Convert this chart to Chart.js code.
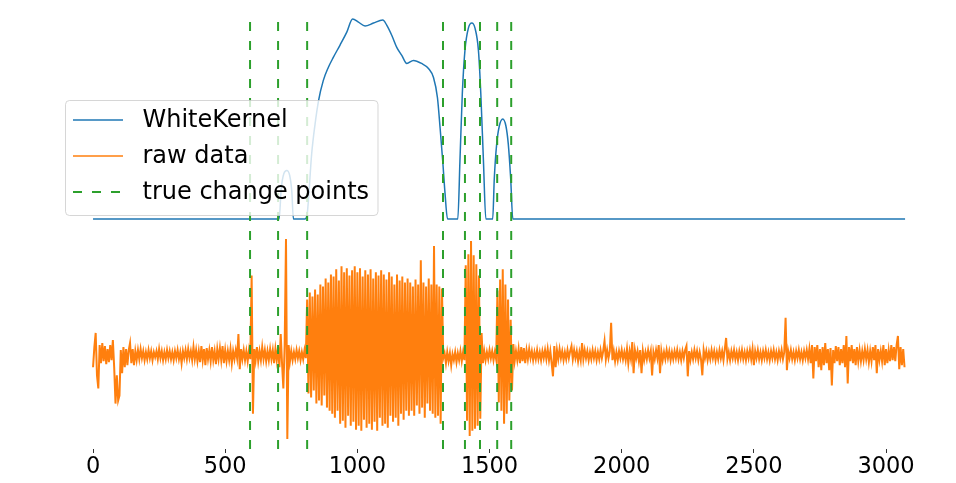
<!DOCTYPE html>
<html>
<head>
<meta charset="utf-8">
<script src="https://cdn.jsdelivr.net/npm/chart.js@4.4.1/dist/chart.umd.min.js"></script>
<style>
  html, body { margin: 0; padding: 0; background: #fff; }
  #wrap { width: 956px; height: 483px; }
</style>
</head>
<body>
<div id="wrap"><canvas id="cpChart" width="956" height="483"></canvas></div>
<script>
// x tick labels
const tickValues = [0, 500, 1000, 1500, 2000, 2500, 3000];

// true change points
const changePoints = [594, 700, 810, 1324, 1407, 1464, 1529, 1582];

// WhiteKernel score (drawn offset above the raw signal)
const kernelX = [0, 704, 712, 722, 733, 744, 752, 758, 802, 811, 827, 840, 853, 871, 890, 909, 934, 960, 982,
  1004, 1029, 1061, 1096, 1111, 1130, 1149, 1168, 1187, 1212, 1243, 1269, 1288, 1303, 1313, 1323, 1332, 1341,
  1380, 1388, 1397, 1407, 1420, 1433, 1445, 1458, 1467, 1477, 1486,
  1512, 1518, 1527, 1537, 1550, 1562, 1571, 1580, 1588, 3072];
const kernelY = [135, 135, 165, 180, 183, 178, 162, 135, 135, 142, 199, 229, 252, 272, 285, 295, 307, 320, 333,
  330, 326, 329, 332, 327, 317, 305, 297, 289, 292, 289, 284, 275, 255, 225, 192, 159, 135,
  135, 192, 259, 302, 324, 329, 324, 302, 259, 192, 135,
  135, 175, 209, 227, 234, 227, 209, 175, 135, 135];

// raw data, one sample every 5 units from 0 to 3070 (20 per row)
const rawStep = 5;
const rawY = [
  -12, 8, 22, -20, -33, 10, -8, 12, -6, 9, -9, 6, -7, 10, -5, 15, -12, -48, -20, -45,
  -40, 5, -18, 8, -12, 6, -10, 5, 12, -8, 6, -10, 4, -5, 5, -4, 6, -3, 4, -5,
  3, -4, 5, -3, 4, -5, 3, -2, 4, -4, 6, -3, 4, -5, 3, -4, 5, -3, 4, -4,
  3, -5, 4, -3, 5, -4, 3, -8, 4, -3, 5, -4, 6, -3, 4, -5, 8, -4, 5, -6,
  4, -7, 9, -5, 6, -10, 7, -4, 5, -6, 8, -5, 4, -9, 6, -4, 7, -5, 9, -8,
  5, -6, 4, -5, 6, -8, 4, -4, 5, -3, 21, -14, 6, -4, 5, -5, 4, -6, 5, -4,
  79, -58, 6, -5, 8, -6, 4, -5, 8, -4, 5, -6, 4, -5, 6, -4, 5, -8, 6, -5,
  8, -12, 21, -8, -33, 10, 115, -83, 10, -6, 4, -5, 3, -4, 5, -3, 4, -5, 3, -4,
  5, -3, 55, -38, 62, -42, 58, -35, 65, -48, 60, -45, 70, -50, 68, -40, 76, -52, 72, -55,
  80, -58, 78, -62, 85, -55, 74, -68, 88, -65, 82, -72, 86, -60, 79, -70, 84, -66, 88, -74,
  82, -70, 86, -75, 78, -64, 84, -72, 80, -68, 85, -74, 76, -66, 82, -75, 79, -62, 84, -70,
  80, -68, 75, -72, 82, -60, 78, -66, 70, -62, 80, -70, 74, -58, 78, -64, 72, -55, 76, -60,
  72, -55, 68, -60, 75, -50, 70, -58, 94, -52, 72, -62, 68, -48, 76, -55, 70, -58, 108, -62,
  70, -60, 68, -68, 66, -3, 2, -8, 3, -6, 2, -10, 1, -5, 3, -7, 2, -5, 4, -6,
  3, -5, 89, -65, 100, -80, 113, -75, 99, -73, 90, -70, 79, -63, 22, -8, 4, -5, 3, -4,
  5, -3, 4, -5, 3, -4, 64, -47, 75, -55, 85, -68, 70, -58, 55, -45, 35, -35, 11, -6,
  4, -5, 6, -8, 8, -6, 7, -8, 5, -4, 6, -3, 4, -5, 3, -4, 5, -4, 3, -5,
  4, -3, 5, -4, 6, -5, 4, -8, -21, 9, -12, 5, -4, 6, -3, 4, -5, 3, -4, 5,
  -3, 4, 9, -4, 5, -3, 4, -6, 3, -5, 12, -4, 5, -3, 4, -5, 3, -4, 5, -3,
  4, -5, 3, -4, 5, -3, 4, 14, -4, 5, -3, 4, 32, -5, 4, -6, 3, -5, 4, -3,
  5, -4, 3, -5, 6, -8, 4, -4, 13, -18, 5, -3, 4, -6, 5, -18, 4, -5, 3, -4,
  5, -3, 4, -20, 3, -4, 5, -3, 10, -18, 4, -5, 3, -4, 5, -3, 4, -5, 3, -4,
  4, -3, 5, -4, 3, -5, 4, -3, 5, 9, -21, 4, -5, 3, -4, 5, -3, 4, -5, 3,
  -4, -20, 5, -3, 4, -5, 3, -4, 5, -3, 4, -5, 3, -4, 5, -3, 4, -5, 6, 17,
  -4, 3, -5, 4, -3, 5, -4, 3, -5, 4, -3, 5, -4, 3, -5, 4, -3, 5, -4, 6,
  -10, 4, -3, 5, -4, 3, -5, 4, -3, 5, -4, 3, -5, 4, -3, 5, -4, 3, -5, 4,
  -3, 5, -4, 3, 37, -15, 4, -3, 5, -4, 3, -5, 4, -3, 5, -4, 3, -5, 4, -3,
  5, -4, 6, -8, 10, -23, 8, -6, 10, -12, 6, -15, 8, -10, 12, -8, 6, -15, 7, -30,
  5, -8, 9, -6, 8, -10, 6, -8, 10, -12, 19, -28, 8, -6, 10, -8, 6, -10, 8, -6,
  5, -6, 4, -5, 6, -4, 5, -7, 4, -6, 8, -5, 10, -18, 6, -5, 4, -6, 10, -10,
  6, -8, 5, -6, 10, -5, 8, -6, 10, 19, -14, 8, -10, 6, -12
];

const yMin = -93;
const yMax = 337;

const BLUE = '#1f77b4';
const ORANGE = '#ff7f0e';
const GREEN = '#2ca02c';
const FONT = '"DejaVu Sans", sans-serif';

const kernelData = kernelX.map((x, i) => ({ x: x, y: kernelY[i] }));
const rawData = rawY.map((y, i) => ({ x: i * rawStep, y: y }));

const cpDatasets = changePoints.map(cp => ({
    data: [{ x: cp, y: yMin }, { x: cp, y: yMax }],
    borderColor: GREEN,
    borderWidth: 2,
    borderDash: [9, 10],
    pointRadius: 0,
    order: 0
}));

// matplotlib style legend drawn inside the plot
const legendBox = {
    id: 'legendBox',
    afterDraw(chart) {
        const ctx = chart.ctx;
        ctx.save();
        ctx.beginPath();
        ctx.roundRect(65.5, 100.5, 312.5, 115, 4);
        ctx.fillStyle = 'rgba(255,255,255,0.8)';
        ctx.fill();
        ctx.strokeStyle = 'rgba(204,204,204,0.8)';
        ctx.lineWidth = 1;
        ctx.stroke();

        const rows = [
            { label: 'WhiteKernel', color: BLUE, dash: [], y: 120 },
            { label: 'raw data', color: ORANGE, dash: [], y: 156 },
            { label: 'true change points', color: GREEN, dash: [9, 10], y: 192 }
        ];
        rows.forEach(r => {
            ctx.beginPath();
            ctx.setLineDash(r.dash);
            ctx.strokeStyle = r.color;
            ctx.lineWidth = r.dash.length ? 2 : 1.5;
            ctx.moveTo(73, r.y);
            ctx.lineTo(123, r.y);
            ctx.stroke();
            ctx.setLineDash([]);
            ctx.fillStyle = '#000';
            ctx.font = '24px ' + FONT;
            ctx.textBaseline = 'middle';
            ctx.textAlign = 'left';
            ctx.fillText(r.label, 142.5, r.y + 1);
        });
        ctx.restore();
    }
};

new Chart(document.getElementById('cpChart'), {
    type: 'line',
    data: {
        datasets: [
            ...cpDatasets,
            {
                label: 'raw data',
                data: rawData,
                borderColor: ORANGE,
                borderWidth: 2,
                pointRadius: 0,
                tension: 0,
                order: 1
            },
            {
                label: 'WhiteKernel',
                data: kernelData,
                borderColor: BLUE,
                borderWidth: 1.5,
                pointRadius: 0,
                cubicInterpolationMode: 'monotone',
                order: 2
            }
        ]
    },
    options: {
        responsive: false,
        animation: false,
        events: [],
        layout: { padding: { left: 66.6, right: 17.1, top: 15, bottom: 1 } },
        plugins: {
            legend: { display: false },
            tooltip: { enabled: false }
        },
        scales: {
            x: {
                type: 'linear',
                min: -100,
                max: 3200,
                afterBuildTicks: scale => {
                    scale.ticks = tickValues.map(v => ({ value: v }));
                },
                grid: {
                    drawOnChartArea: false,
                    drawTicks: true,
                    tickLength: 4,
                    color: '#333'
                },
                border: { display: false },
                ticks: {
                    color: '#000',
                    padding: 1,
                    maxRotation: 0,
                    autoSkip: false,
                    font: { family: FONT, size: 22.5 },
                    callback: v => String(v)
                }
            },
            y: {
                display: false,
                min: yMin,
                max: yMax
            }
        }
    },
    plugins: [legendBox]
});
</script>
</body>
</html>
